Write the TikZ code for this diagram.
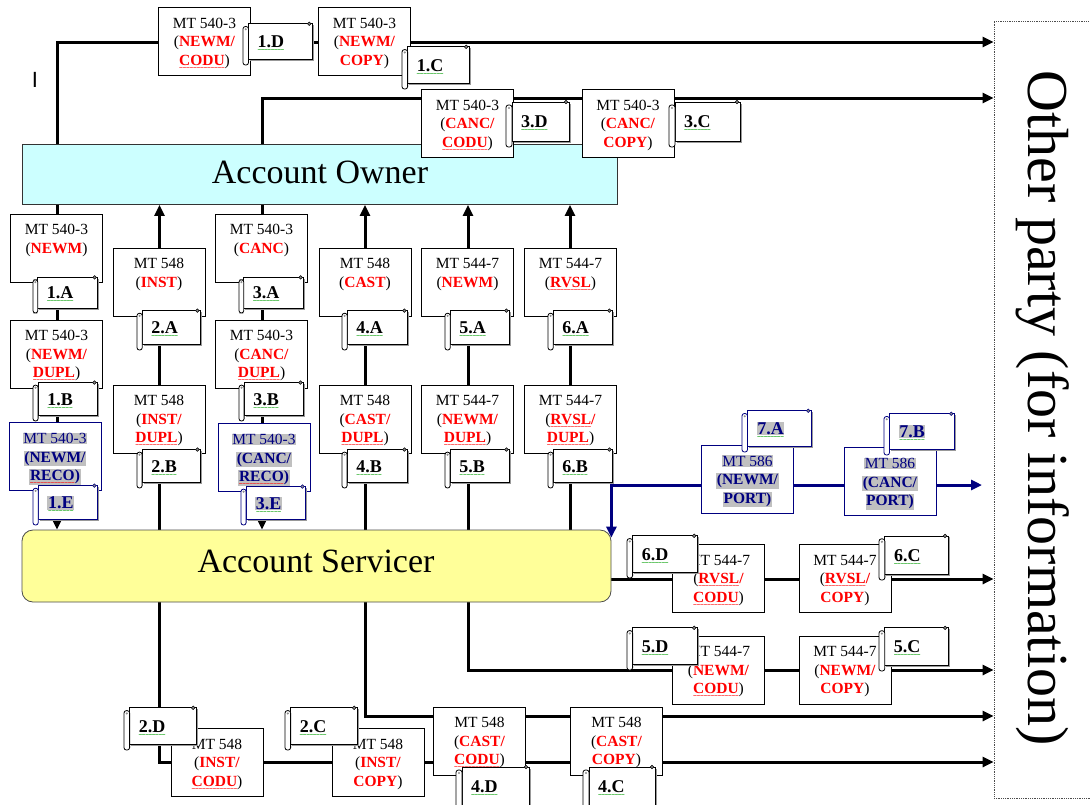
\documentclass[tikz,border=0pt]{standalone}
\usepackage{fontspec}
\setmainfont{Liberation Serif}
\newfontfamily\arialf{Liberation Sans}
\newfontfamily\wvf{DejaVu Sans}
\usetikzlibrary{arrows.meta}
\definecolor{aocyan}{RGB}{204,255,255}
\definecolor{asyellow}{RGB}{255,255,153}
\definecolor{navy}{RGB}{0,0,128}
\definecolor{hlgray}{RGB}{192,192,192}
\definecolor{wgreen}{RGB}{0,160,0}
\definecolor{mred}{RGB}{255,0,0}
\newcommand\wvline[2]{\leavevmode\setbox0\hbox{#2}\rlap{\raisebox{-4pt}[0pt][0pt]{\color{#1}\hbox to\wd0{\xleaders\hbox{\wvf\fontsize{5}{5}\selectfont\kern-0.45pt\char"223C\kern-0.45pt}\hfil}}}\box0}
\newcommand\rw[1]{\wvline{mred}{#1}}
\newcommand\gw[1]{\wvline{wgreen}{#1}}
\newcommand\rd[1]{\textcolor{mred}{\textbf{#1}}}
\newcommand\hlg[1]{{\setlength{\fboxsep}{0.6pt}\colorbox{hlgray}{#1}}}
\pgfdeclarelayer{bg}
\pgfdeclarelayer{lines}
\pgfsetlayers{bg,lines,main}
% message box: name, x, y, style suffix, text
\newcommand\msgbox[5]{%
 \node[msg#4] (#1) at (#2,#3) {};
 \node[mtext#4] (#1t) at ([yshift=-10.5pt]#1.north) {\parbox[t]{92pt}{\centering #5}};%
}
% scroll: name, x0, y0, x1, y1, label, colour
\newcommand\scrl[7]{%
 \pgfmathsetmacro\sch{0.125*(#5-#3)}%
 \pgfmathsetmacro\schh{0.5*\sch}%
 \fill[black!40] (#2+\sch+1.5,#3+\schh+1.5) rectangle (#4+1.5,#5-\sch+1.5);
 \filldraw[fill=white,draw=#7,line width=0.8pt] (#2+\sch,#3+\schh) rectangle (#4,#5-\sch);
 \filldraw[fill=black!45,draw=#7,line width=0.5pt] (#4-\schh,#3+\schh) circle[radius=1.8pt];
 \filldraw[fill=white,draw=#7,line width=0.8pt,rounded corners=2.4pt] (#2,#3+\sch) rectangle (#2+\sch,#5);
 \fill[black!45] (#2+\schh,#3+\sch+\schh) circle[radius=1.2pt];
 \node[lbl,text=#7,anchor=base west] (#1) at (#2+\sch+9,{0.5*(#3+\schh+#5-\sch)+6}) {#6};%
}
\tikzset{
 msg/.style={draw=black,fill=white,line width=0.8pt,inner sep=0pt,minimum width=92pt,minimum height=68pt},
 msgb/.style={msg,draw=navy},
 mtext/.style={anchor=north,inner sep=0pt,font=\fontsize{15.5}{18.5}\selectfont},
 mtextb/.style={mtext,text=navy},
 lbl/.style={inner sep=0pt,font=\fontsize{18}{20}\selectfont\bfseries},
 lane/.style={line width=3pt,black},
 bluelane/.style={line width=3pt,navy},
 arr/.style={-{Triangle[length=11pt,width=10pt]}},
}
\begin{document}
\begin{tikzpicture}[x=1pt,y=-1pt]
\useasboundingbox (0,0) rectangle (1090,804);
\begin{pgfonlayer}{bg}
\fill[white] (0,0) rectangle (1090,804);
\end{pgfonlayer}

% lane coordinates
\coordinate (y42) at (0,42);
\coordinate (y98) at (0,98);
\coordinate (y579) at (0,579);
\coordinate (y670) at (0,670);
\coordinate (y716) at (0,716);
\coordinate (y762) at (0,762);
\coordinate (c1) at (57,0);
\coordinate (c2) at (159.5,0);
\coordinate (c3) at (262,0);
\coordinate (c4) at (365,0);
\coordinate (c5) at (468,0);
\coordinate (c6) at (570,0);
\coordinate (b7end) at (982,485);

% other party
\node[draw=black!70,densely dotted,line width=0.8pt,minimum width=116pt,minimum height=777pt,inner sep=0pt] (OP) at (1052,409.5) {};
\node[rotate=-90,font=\fontsize{58}{60}\selectfont,inner sep=0pt] (OPt) at (1043,408) {Other party (for information)};
\node[font=\arialf\fontsize{22}{22}\selectfont,inner sep=0pt] (cur) at (35,80) {I};

% main parties
\node[draw=black!80,fill=aocyan,line width=0.8pt,minimum width=595pt,minimum height=60pt,inner sep=0pt] (AO) at (319.5,174.5) {};
\node[anchor=base,font=\fontsize{34}{36}\selectfont,inner sep=0pt] (AOt) at (320,183) {Account Owner};
\node[draw=black!70,fill=asyellow,line width=0.8pt,rounded corners=11pt,minimum width=589pt,minimum height=72pt,inner sep=0pt] (AS) at (316.5,566) {};
\node[anchor=base,font=\fontsize{34}{36}\selectfont,inner sep=0pt] (ASt) at (316,572) {Account Servicer};

% messages
\msgbox{m1d}{204.5}{41.5}{}{MT 540-3\\(\rd{NEWM/}\\\rd{\rw{CODU}})}
\msgbox{m1c}{364.5}{41.5}{}{MT 540-3\\(\rd{NEWM/}\\\rd{COPY})}
\msgbox{m3d}{467.5}{123.5}{}{MT 540-3\\(\rd{CANC/}\\\rd{\rw{CODU}})}
\msgbox{m3c}{628}{123.5}{}{MT 540-3\\(\rd{CANC/}\\\rd{COPY})}

\msgbox{m1a}{56.5}{248}{}{MT 540-3\\(\rd{NEWM})}
\msgbox{m1b}{56.5}{354}{}{MT 540-3\\(\rd{NEWM/}\\\rd{\rw{DUPL}})}
\msgbox{m1e}{55}{456.5}{b}{\hlg{MT 540-3}\\\hlg{\textbf{(NEWM/}}\\\hlg{\textbf{\rw{RECO})}}}
\msgbox{m2a}{159}{282}{}{MT 548\\(\rd{INST})}
\msgbox{m2b}{159}{419}{}{MT 548\\(\rd{INST/}\\\rd{\rw{DUPL}})}
\msgbox{m3a}{261.5}{248}{}{MT 540-3\\(\rd{CANC})}
\msgbox{m3b}{261.5}{354}{}{MT 540-3\\(\rd{CANC/}\\\rd{\rw{DUPL}})}
\msgbox{m3e}{264}{457.5}{b}{\hlg{MT 540-3}\\\hlg{\textbf{(CANC/}}\\\hlg{\textbf{\rw{RECO})}}}
\msgbox{m4a}{365}{282}{}{MT 548\\(\rd{CAST})}
\msgbox{m4b}{365}{419}{}{MT 548\\(\rd{CAST/}\\\rd{\rw{DUPL}})}
\msgbox{m5a}{467.5}{282}{}{MT 544-7\\(\rd{NEWM})}
\msgbox{m5b}{467.5}{419}{}{MT 544-7\\(\rd{NEWM/}\\\rd{\rw{DUPL}})}
\msgbox{m6a}{570.5}{282}{}{MT 544-7\\(\rd{\rw{RVSL}})}
\msgbox{m6b}{570.5}{419}{}{MT 544-7\\(\rd{\rw{RVSL}/}\\\rd{\rw{DUPL}})}

\msgbox{m7a}{747.5}{479}{b}{\hlg{MT 586}\\\hlg{\textbf{(NEWM/}}\\\hlg{\textbf{PORT)}}}
\msgbox{m7b}{890}{481.5}{b}{\hlg{MT 586}\\\hlg{\textbf{(CANC/}}\\\hlg{\textbf{PORT)}}}

\msgbox{m6d}{718.5}{578.5}{}{MT 544-7\\(\rd{\rw{RVSL}/}\\\rd{\rw{CODU}})}
\msgbox{m6c}{845}{578.5}{}{MT 544-7\\(\rd{\rw{RVSL}/}\\\rd{COPY})}
\msgbox{m5d}{718.5}{670}{}{MT 544-7\\(\rd{NEWM/}\\\rd{\rw{CODU}})}
\msgbox{m5c}{845}{670}{}{MT 544-7\\(\rd{NEWM/}\\\rd{COPY})}
\msgbox{m4d}{479.5}{741}{}{MT 548\\(\rd{CAST/}\\\rd{\rw{CODU}})}
\msgbox{m4c}{616.5}{741}{}{MT 548\\(\rd{CAST/}\\\rd{COPY})}
\msgbox{m2d}{217}{762.5}{}{MT 548\\(\rd{INST/}\\\rd{\rw{CODU}})}
\msgbox{m2c}{378}{762.5}{}{MT 548\\(\rd{INST/}\\\rd{COPY})}

% scrolls
\scrl{s1d}{243}{21}{312}{65}{\gw{1.D}}{black}
\scrl{s1c}{402}{44}{469}{89}{\gw{1.C}}{black}
\scrl{s3d}{506}{99}{569}{147}{\gw{3.D}}{black}
\scrl{s3c}{669}{99}{740}{147}{\gw{3.C}}{black}
\scrl{s1a}{33}{275}{97}{313}{\gw{1.A}}{black}
\scrl{s1b}{33}{380}{97}{421}{\gw{1.B}}{black}
\scrl{s1e}{33}{483}{97}{525}{\hlg{\gw{1.E}}}{navy}
\scrl{s2a}{137}{308}{200}{350}{\gw{2.A}}{black}
\scrl{s2b}{137}{447}{200}{488}{\gw{2.B}}{black}
\scrl{s3a}{239}{275}{303}{313}{\gw{3.A}}{black}
\scrl{s3b}{239}{380}{303}{421}{\gw{3.B}}{black}
\scrl{s3e}{241}{484}{305}{525}{\hlg{\gw{3.E}}}{navy}
\scrl{s4a}{342}{308}{407}{350}{\gw{4.A}}{black}
\scrl{s4b}{342}{447}{407}{488}{\gw{4.B}}{black}
\scrl{s5a}{445}{308}{509}{350}{\gw{5.A}}{black}
\scrl{s5b}{445}{447}{509}{488}{\gw{5.B}}{black}
\scrl{s6a}{548}{308}{612}{350}{\gw{6.A}}{black}
\scrl{s6b}{548}{447}{612}{488}{\gw{6.B}}{black}
\scrl{s7a}{742}{408}{811}{452}{\hlg{\gw{7.A}}}{navy}
\scrl{s7b}{884}{411}{954}{455}{\hlg{\gw{7.B}}}{navy}
\scrl{s6d}{627}{533}{697}{578}{\gw{6.D}}{black}
\scrl{s6c}{879}{533}{948}{580}{\gw{6.C}}{black}
\scrl{s5d}{627}{625}{697}{670}{\gw{5.D}}{black}
\scrl{s5c}{879}{625}{948}{671}{\gw{5.C}}{black}
\scrl{s2d}{124}{705}{196}{750}{\gw{2.D}}{black}
\scrl{s2c}{285}{705}{357}{750}{\gw{2.C}}{black}
\scrl{s4d}{456}{764}{529}{812}{\gw{4.D}}{black}
\scrl{s4c}{583}{764}{655}{812}{\gw{4.C}}{black}

% connectors
\begin{pgfonlayer}{lines}
\draw[lane,arr] (AO.north -| c1) |- (OP.west |- y42);
\draw[lane,arr] (AO.north -| c3) |- (OP.west |- y98);
\draw[lane,arr] (AO.south -| c1) -- (AS.north -| c1);
\draw[lane,arr] (AS.north -| c2) -- (AO.south -| c2);
\draw[lane,arr] (AO.south -| c3) -- (AS.north -| c3);
\draw[lane,arr] (AS.north -| c4) -- (AO.south -| c4);
\draw[lane,arr] (AS.north -| c5) -- (AO.south -| c5);
\draw[lane,arr] (AS.north -| c6) -- (AO.south -| c6);
\draw[lane,arr] (AS.east |- y579) -- (OP.west |- y579);
\draw[lane,arr] (AS.south -| c5) |- (OP.west |- y670);
\draw[lane,arr] (AS.south -| c4) |- (OP.west |- y716);
\draw[lane,arr] (AS.south -| c2) |- (OP.west |- y762);
\draw[bluelane,{Triangle[length=11pt,width=10pt]}-{Triangle[length=11pt,width=10pt]}] ([yshift=-8pt]AS.north east) |- (b7end);
\end{pgfonlayer}
\end{tikzpicture}
\end{document}
